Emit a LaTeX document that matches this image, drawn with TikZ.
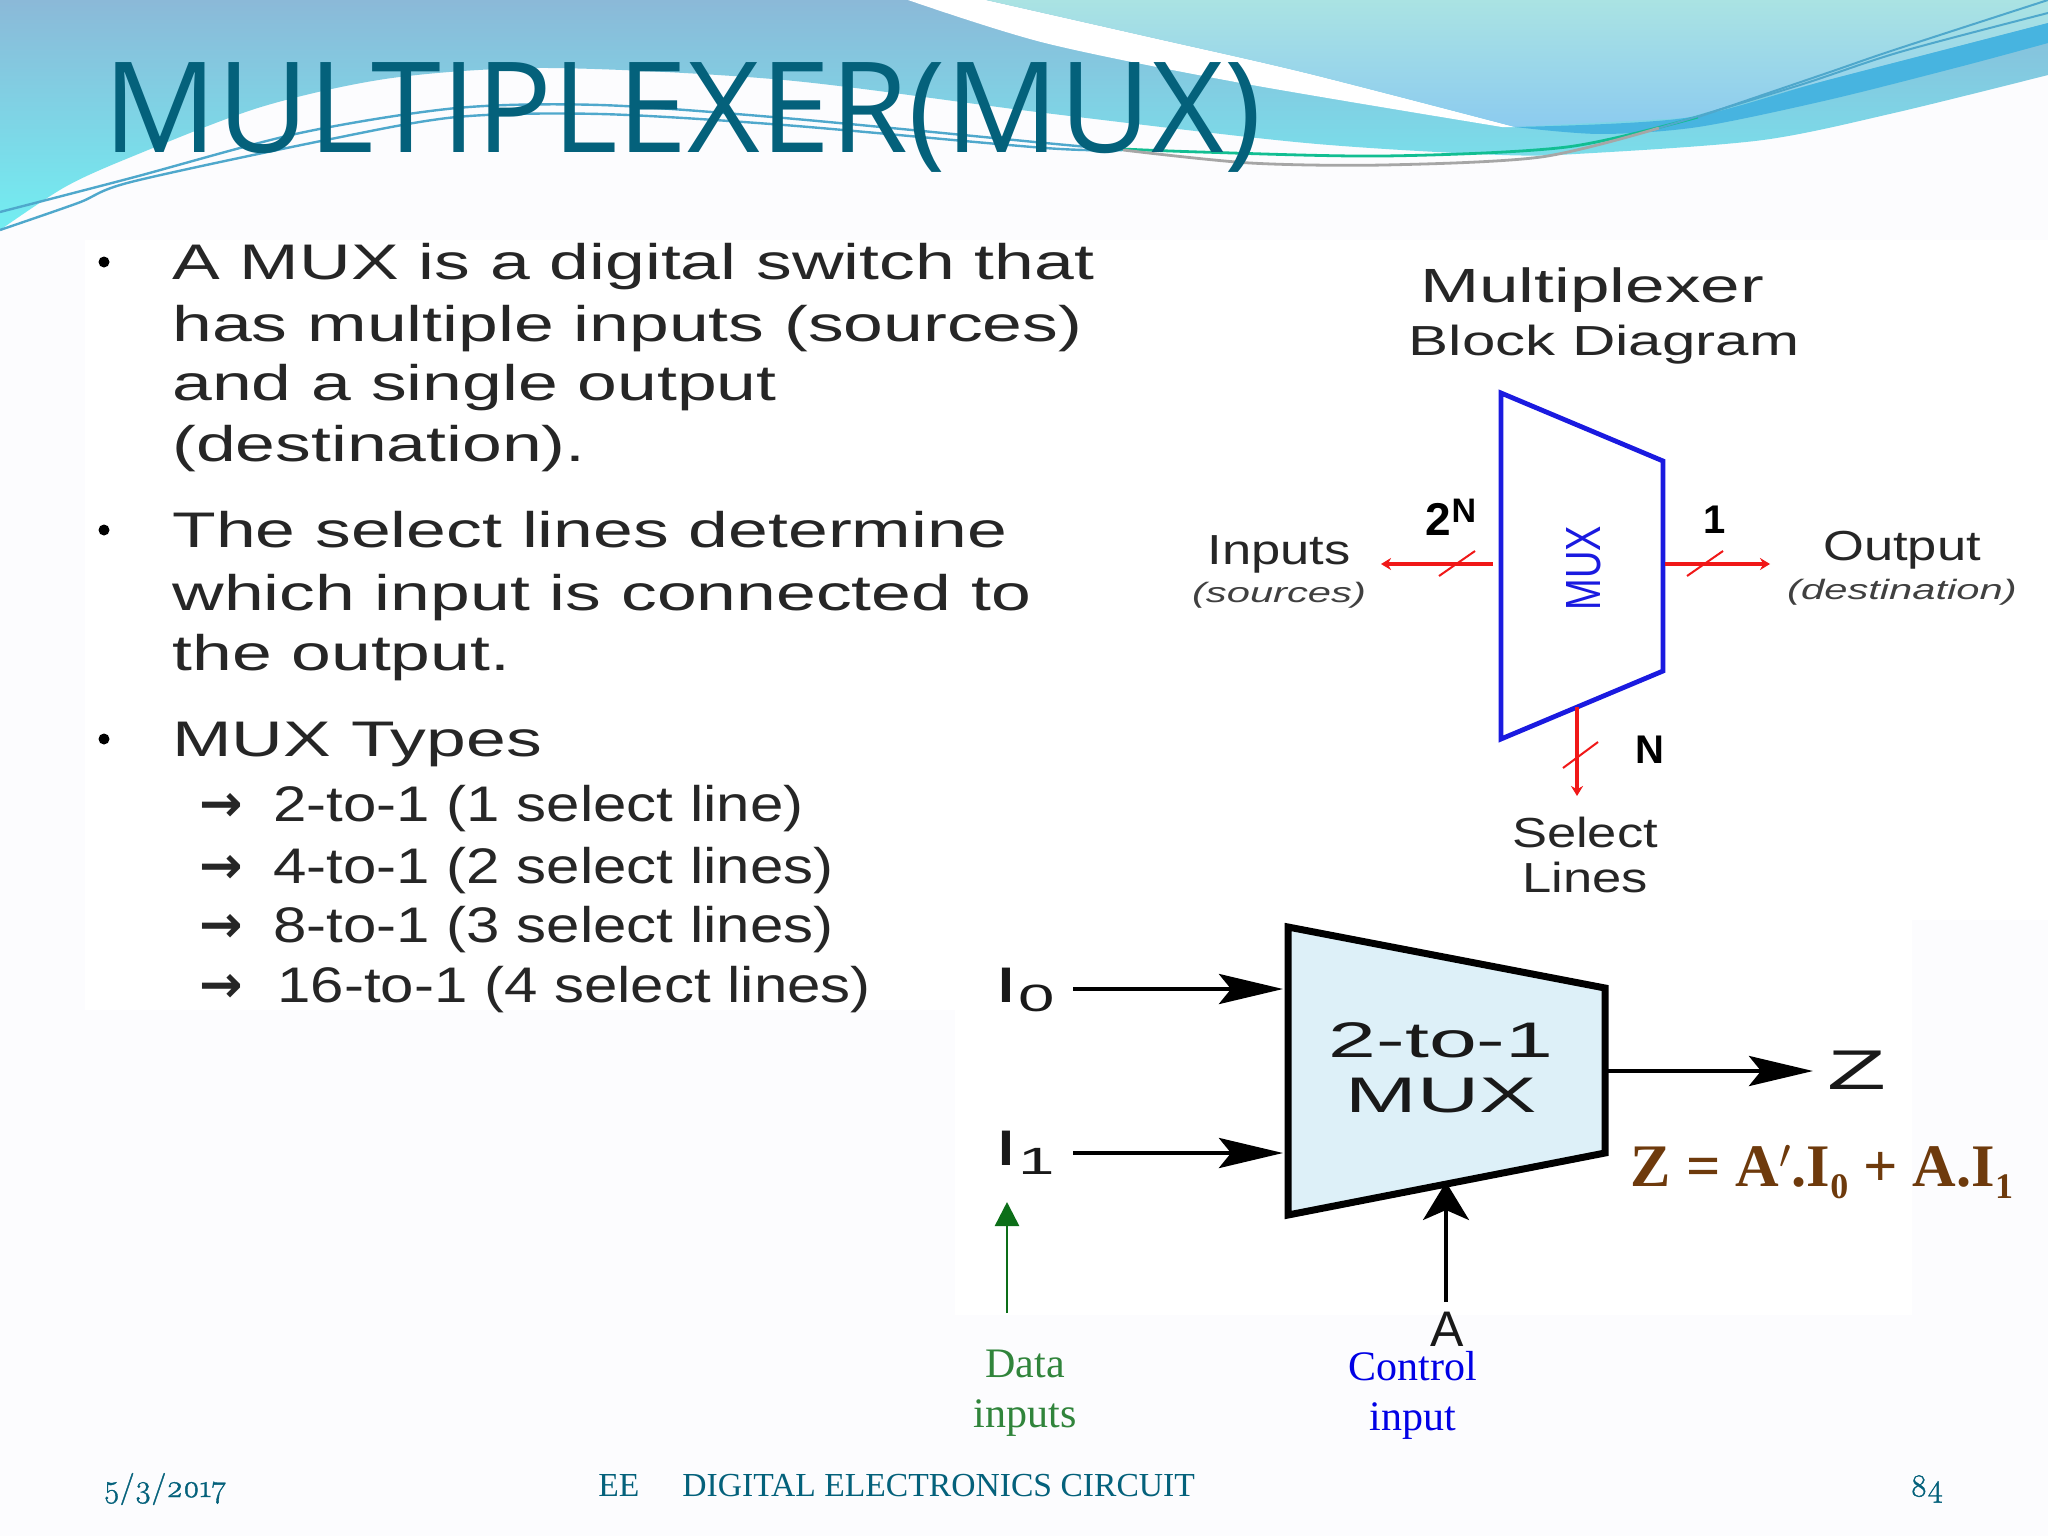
\documentclass[tikz,border=0pt]{standalone}
\usepackage{fontspec}
\setmainfont{Liberation Sans}
\newfontfamily\titlefont{Open Sans}
\newfontfamily\bodyfont[FakeStretch=1.43]{Liberation Sans}
\newfontfamily\listfont[FakeStretch=1.2]{Liberation Sans}
\newfontfamily\headfont[FakeStretch=1.48]{Liberation Sans}
\newfontfamily\blockfont[FakeStretch=1.43]{Liberation Sans}
\newfontfamily\upfont[FakeStretch=1.25]{Liberation Sans}
\newfontfamily\subfont[FakeStretch=1.49]{Liberation Sans}
\newfontfamily\lowfont[FakeStretch=1.72]{Liberation Sans}
\newfontfamily\serifont{Liberation Serif}
\newfontfamily\arrowfont{DejaVu Sans}
\newfontfamily\footnum[Numbers=OldStyle,FakeBold=1.2]{Latin Modern Roman}
\usetikzlibrary{arrows.meta, positioning}
\definecolor{titleteal}{HTML}{04617B}
\definecolor{pagetint}{HTML}{FCFCFE}
\definecolor{muxblue}{HTML}{1A1AE0}
\definecolor{wirered}{HTML}{F01818}
\definecolor{muxfill}{HTML}{DDF0F8}
\definecolor{datagreen}{HTML}{0C6E18}
\definecolor{formbrown}{HTML}{6E3A0C}
\definecolor{bandblue}{HTML}{47B4E0}
\definecolor{strandblue}{HTML}{4FA8CC}
\definecolor{strandgreen}{HTML}{12BE92}
\tikzstyle{bodytext} = [anchor=base west, inner sep=0pt, text=black!85, font=\bodyfont\fontsize{25}{30}\selectfont]
\tikzstyle{listtext} = [anchor=base west, inner sep=0pt, text=black!85, font=\listfont\fontsize{25}{30}\selectfont]
\tikzstyle{listarrow} = [anchor=base west, inner sep=0pt, text=black!85, font=\arrowfont\bfseries\fontsize{26}{30}\selectfont]
\tikzstyle{bullet} = [circle, fill=black, inner sep=0pt, minimum size=5.5pt]
\tikzstyle{uptext} = [inner sep=0pt, text=black!85, font=\upfont\fontsize{21}{25}\selectfont]
\tikzstyle{subtext} = [inner sep=0pt, text=black!75, font=\subfont\itshape\fontsize{14}{17}\selectfont]
\tikzstyle{lowtext} = [inner sep=0pt, text=black!90, font=\lowfont\fontsize{25}{30}\selectfont]
\tikzstyle{capt} = [inner sep=0pt, align=center, font=\serifont\fontsize{21}{25}\selectfont]
\tikzstyle{foot} = [inner sep=0pt, text=titleteal, font=\serifont\fontsize{16.8}{20}\selectfont]
\tikzstyle{redwire} = [wirered, line width=2pt, -{Stealth[length=5pt,width=6pt]}]
\tikzstyle{slash} = [wirered, line width=1pt]
\tikzstyle{bigarrow} = [line width=2.4pt, -{Stealth[length=32pt,width=15pt,inset=6pt]}]
\begin{document}
\begin{tikzpicture}[x=0.5pt,y=-0.5pt]
\useasboundingbox (0,0) rectangle (2048,1536);
\fill [pagetint] (0,0) rectangle (2048,1536);
\fill [white] (85,240) rectangle (1100,1010);
\fill [white] (1100,240) rectangle (2048,920);
\fill [white] (955,920) rectangle (1912,1315);

\shade [top color={rgb,255:red,139;green,185;blue,216}, bottom color={rgb,255:red,114;green,238;blue,242}]
  (0,0) -- (2048,0) -- plot [smooth] coordinates {(2048,75) (1894,113) (1763,140) (1593,153) (1502,155) (1306,143) (1045,113) (784,80) (548,68) (392,78) (261,107) (131,157) (65,187) (0,230)} -- cycle;
\fill [white] plot [smooth] coordinates {(908,0) (1045,43) (1241,83) (1502,127)} -- plot [smooth] coordinates {(1515,127) (1306,73) (1149,37) (986,0)} -- cycle;
\shade [top color={rgb,255:red,170;green,227;blue,227}, bottom color={rgb,255:red,140;green,203;blue,239}]
  plot [smooth] coordinates {(986,0) (1149,37) (1306,73) (1515,127)} -- plot [smooth] coordinates {(1685,118) (1828,80) (2048,23)} -- (2048,0) -- cycle;
\fill [bandblue] plot [smooth] coordinates {(1515,127) (1685,118) (1828,80) (2048,23)} -- plot [smooth] coordinates {(2048,43) (1959,67) (1828,100) (1698,127) (1600,134) (1515,127)} -- cycle;

\draw [strandblue, line width=1.2pt] plot [smooth] coordinates {(0,212) (131,178) (300,133) (457,108) (600,105) (784,118) (1045,143) (1100,148)};
\draw [strandblue, line width=1.2pt] plot [smooth] coordinates {(0,230) (78,203) (131,182) (326,140) (457,117) (600,114) (784,125) (1045,148) (1123,150)};
\draw [strandgreen, line width=1.4pt] plot [smooth] coordinates {(1100,148) (1200,152) (1384,156) (1567,147) (1698,117)};
\draw [gray!70, line width=1.4pt] plot [smooth] coordinates {(1123,150) (1250,163) (1384,165) (1541,157) (1659,128)};
\draw [strandblue, line width=1pt] plot [smooth] coordinates {(1698,117) (1830,72) (1894,50) (2048,0)};
\draw [strandblue, line width=1pt] plot [smooth] coordinates {(1659,128) (1800,85) (1900,52) (2048,13)};

\node [inner sep=0pt, anchor=base west, text=titleteal, font=\titlefont\fontsize{63}{70}\selectfont] (title) at (103,152) {MULTIPLEXER(MUX)};

\node [bullet] (b1) at (104,262) {};
\node [bullet] (b2) at (104,530) {};
\node [bullet] (b3) at (104,739) {};
\node [bodytext] (t1) at (172,279) {A MUX is a digital switch that};
\node [bodytext] (t2) at (172,341) {has multiple inputs (sources)};
\node [bodytext] (t3) at (172,400) {and a single output};
\node [bodytext] (t4) at (172,461) {(destination).};
\node [bodytext] (t5) at (172,547) {The select lines determine};
\node [bodytext] (t6) at (172,610) {which input is connected to};
\node [bodytext] (t7) at (172,670) {the output.};
\node [bodytext] (t8) at (172,756) {MUX Types};
\node [listarrow] (a9) at (199,821) {→};
\node [listarrow] (a10) at (199,883) {→};
\node [listarrow] (a11) at (199,942) {→};
\node [listarrow] (a12) at (199,1002) {→};
\node [listtext] (t9) at (273,821) {2-to-1 (1 select line)};
\node [listtext] (t10) at (273,883) {4-to-1 (2 select lines)};
\node [listtext] (t11) at (273,942) {8-to-1 (3 select lines)};
\node [listtext] (t12) at (277,1002) {16-to-1 (4 select lines)};

\node [inner sep=0pt, text=black!85, font=\headfont\fontsize{24}{28}\selectfont] (head1) at (1592,290) {Multiplexer};
\node [inner sep=0pt, text=black!85, font=\blockfont\fontsize{21}{25}\selectfont] (head2) at (1604,345) {Block Diagram};
\coordinate (m1) at (1501,393);
\coordinate (m2) at (1663,461);
\coordinate (m3) at (1663,671);
\coordinate (m4) at (1501,739);
\draw [muxblue, line width=2.4pt] (m1) -- (m2) -- (m3) -- (m4) -- cycle;
\node [inner sep=0pt, text=muxblue, rotate=90, font=\fontsize{19}{25}\selectfont] (muxv) at (1584,568) {\scalebox{1}[1.3]{MUX}};
\node [uptext] (inp) at (1279,554) {Inputs};
\node [subtext] (src) at (1279,595) {(sources)};
\node [uptext] (outp) at (1902,550) {Output};
\node [subtext] (dst) at (1902,592) {(destination)};
\node [inner sep=0pt, font=\bfseries\fontsize{23}{26}\selectfont] (nin) at (1451,517) {2\raisebox{0.55ex}{\fontsize{17}{19}\selectfont N}};
\node [inner sep=0pt, font=\bfseries\fontsize{20}{24}\selectfont] (none) at (1715,520) {1};
\node [inner sep=0pt, font=\bfseries\fontsize{20}{24}\selectfont] (nsel) at (1650,750) {N};
\node [uptext] (sel1) at (1585,832) {Select};
\node [uptext] (sel2) at (1585,877) {Lines};

\coordinate (inA) at (1493,564);
\coordinate (inB) at (1381,564);
\coordinate (outA) at (1665,564);
\coordinate (outB) at (1770,564);
\coordinate (selA) at (1577,707);
\coordinate (selB) at (1577,796);
\coordinate (s1a) at (1439,576);
\coordinate (s1b) at (1475,551);
\coordinate (s2a) at (1687,576);
\coordinate (s2b) at (1723,551);
\coordinate (s3a) at (1563,768);
\coordinate (s3b) at (1598,742);
\draw [redwire] (inA) to (inB);
\draw [redwire] (outA) to (outB);
\draw [redwire] (selA) to (selB);
\draw [slash] (s1a) to (s1b);
\draw [slash] (s2a) to (s2b);
\draw [slash] (s3a) to (s3b);

\coordinate (k1) at (1288,927);
\coordinate (k2) at (1605,988);
\coordinate (k3) at (1605,1153);
\coordinate (k4) at (1288,1215);
\draw [fill=muxfill, line width=3.5pt] (k1) -- (k2) -- (k3) -- (k4) -- cycle;
\node [lowtext] (two) at (1441,1040) {2-to-1};
\node [lowtext] (mux) [below=10pt of two] {MUX};
\node [lowtext] (i0) at (1025,990) {I\raisebox{-0.35ex}{\fontsize{19}{22}\selectfont 0}};
\node [lowtext] (i1) at (1025,1153) {I\raisebox{-0.35ex}{\fontsize{19}{22}\selectfont 1}};
\node [lowtext, font=\lowfont\fontsize{28}{30}\selectfont] (z) at (1857,1070) {Z};
\node [inner sep=0pt, text=black!90, font=\fontsize{25}{30}\selectfont] (a) at (1447,1329) {A};
\coordinate (i0a) at (1073,989);
\coordinate (i1a) at (1073,1153);
\coordinate (i0b) at (1283,989);
\coordinate (i1b) at (1283,1153);
\coordinate (za) at (1608,1071);
\coordinate (zb) at (1813,1071);
\coordinate (aa) at (1446,1302);
\coordinate (ab) at (1446,1182);
\draw [bigarrow] (i0a) to (i0b);
\draw [bigarrow] (i1a) to (i1b);
\draw [bigarrow] (za) to (zb);
\draw [line width=1.8pt, -{Stealth[length=19pt,width=23pt,inset=5pt]}] (aa) to (ab);
\coordinate (dataA) at (1007,1313);
\coordinate (dataB) at (1007,1202);
\draw [datagreen, line width=1.3pt, -{Stealth[length=12pt,width=12pt,inset=0pt]}] (dataA) to (dataB);
\node [capt, text=datagreen!85!white] (data) at (1025,1393) {Data\\inputs};
\node [capt, text=blue!90!black] (ctrl) at (1413,1395) {Control\\input};
\node [inner sep=0pt, text=formbrown, font=\serifont\bfseries\fontsize{30.2}{36}\selectfont] (eq) at (1822,1172) {Z = A$'$.I\raisebox{-0.45ex}{\fontsize{18}{20}\selectfont 0} + A.I\raisebox{-0.45ex}{\fontsize{18}{20}\selectfont 1}};

\node [foot, anchor=west, font=\footnum\fontsize{16}{20}\selectfont] (date) at (103,1489) {5/3/2017};
\node [foot, anchor=west] (ftxt) at (598,1486) {EE\hspace{21.5pt}DIGITAL ELECTRONICS CIRCUIT};
\node [foot, anchor=west, font=\footnum\fontsize{16}{20}\selectfont] (page) at (1910,1489) {84};
\end{tikzpicture}
\end{document}
